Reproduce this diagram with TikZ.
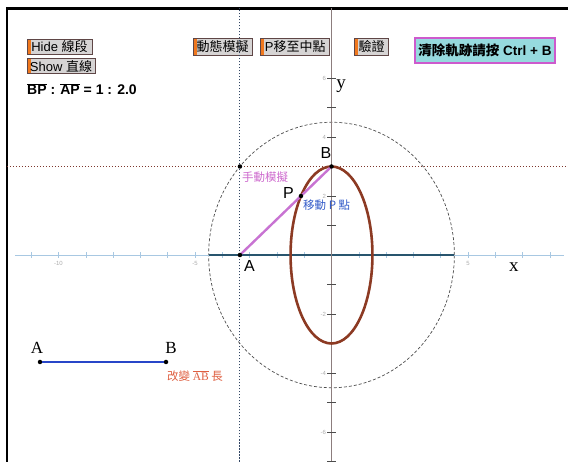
\documentclass[tikz,border=0pt]{standalone}
\usepackage{fontspec}
\setmainfont{Liberation Serif}
\setsansfont{Liberation Sans}
\newfontfamily\cjk{Noto Sans CJK TC}
\usepackage{tikz}
\usetikzlibrary{positioning}
\definecolor{btnfill}{RGB}{214,212,212}
\definecolor{btnedge}{RGB}{95,70,70}
\definecolor{btnstrip}{RGB}{240,120,30}
\definecolor{clearfill}{RGB}{150,218,222}
\definecolor{clearedge}{RGB}{205,90,205}
\definecolor{axisblue}{RGB}{168,200,226}
\definecolor{trackdark}{RGB}{40,85,110}
\definecolor{yaxisgray}{RGB}{140,125,125}
\definecolor{ellbrown}{RGB}{140,58,35}
\definecolor{segviolet}{RGB}{200,115,210}
\definecolor{guideblue}{RGB}{50,70,100}
\definecolor{guidered}{RGB}{125,55,45}
\definecolor{hintpink}{RGB}{205,105,205}
\definecolor{hintblue}{RGB}{50,90,200}
\definecolor{hintred}{RGB}{222,95,65}
\definecolor{segblue}{RGB}{40,70,200}
\newcommand{\ovl}[1]{$\overline{\mbox{#1}}$}
\tikzset{
  btn/.style={draw=btnedge, fill=btnfill, line width=0.8pt, inner xsep=3pt, inner ysep=1pt,
    minimum height=15pt, font=\sffamily\fontsize{13}{14}\selectfont,
    path picture={\fill[btnstrip] (path picture bounding box.south west) rectangle ([xshift=3.5pt]path picture bounding box.north west);}},
  clearbtn/.style={draw=clearedge, fill=clearfill, line width=1.6pt, minimum width=140pt, minimum height=25pt,
    inner sep=1pt, font=\sffamily\bfseries\fontsize{13.5}{14}\selectfont},
  dot/.style={circle, fill=black, inner sep=0pt, minimum size=4.5pt},
  ptlabel/.style={inner sep=0pt, font=\sffamily\fontsize{16}{16}\selectfont},
  seglabel/.style={inner sep=0pt, font=\fontsize{17}{17}\selectfont},
  ticklbl/.style={inner sep=0pt, text=gray!65, font=\sffamily\fontsize{6}{6}\selectfont},
  hint/.style={inner sep=0pt, font=\cjk\fontsize{11.5}{12}\selectfont},
  guide/.style={dash pattern=on 1.5pt off 1.5pt, line width=0.9pt}
}
\begin{document}
\begin{tikzpicture}[x=1pt, y=-1pt]
  \useasboundingbox (0,0) rectangle (568,462);
  \draw[line width=2.5pt] (7,462) -- (7,8.5) -- (568,8.5);

  % control panel
  \node[btn, minimum width=65pt] (hide) at (59.5,46.5) {Hide {\cjk 線段}};
  \node[btn, minimum width=68pt, below=4pt of hide.south west, anchor=north west] (show) {Show {\cjk 直線}};
  \node[anchor=north west, inner sep=0pt, font=\sffamily\bfseries\fontsize{14}{14}\selectfont] (ratio) at (27,83)
    {\ovl{BP} : \ovl{AP} = 1 : 2.0};

  \node[btn, minimum width=59pt, minimum height=17pt] (anim) at (222.5,46.5) {\cjk 動態模擬};
  \node[btn, minimum width=69pt, minimum height=17pt, right=8pt of anim] (mid) {P{\cjk 移至中點}};
  \node[btn, minimum width=34pt, minimum height=17pt, right=24pt of mid] (check) {\cjk 驗證};
  \node[clearbtn] (clear) at (485,50.5) {{\cjk 清除軌跡請按} Ctrl + B};

  % coordinate plane
  \begin{scope}[shift={(331.5,255)}, x=27.3pt, y=29.5pt]
    \coordinate (A) at (-3.354,0);
    \coordinate (B) at (0,3);
    \coordinate (P) at (-1.118,2);
    \coordinate (Q) at (-3.354,3);

    \draw[guide, guideblue] (-3.354,-7.0) -- (-3.354,8.36);
    \draw[guide, guidered] (-11.89,3) -- (8.66,3);
    \draw[black!70, line width=0.7pt, dash pattern=on 3pt off 2pt] (0,0) ellipse [x radius=4.5, y radius=4.5];

    \draw[axisblue, line width=0.8pt] (-11.6,0) -- (8.5,0);
    \foreach \i in {-11,...,8}
      \draw[axisblue, line width=0.6pt] (\i,-0.1) -- (\i,0.1);
    \draw[trackdark, line width=1.1pt] (-4.5,0) -- (4.5,0);
    \draw[yaxisgray, line width=1pt] (0,-7.0) -- (0,8.36);
    \foreach \j in {-7,...,-1,1,2,...,6}
      \draw[black!70, line width=0.7pt] (-0.15,\j) -- (0.15,\j);
    \foreach \i in {-10,-5,5}
      \node[ticklbl] (xt\i) at (\i,-0.28) {\i};
    \foreach \j in {-6,-4,-2,2,4,6}
      \node[ticklbl, anchor=east] (yt\j) at (-0.2,\j) {\j};
    \node[inner sep=0pt, font=\fontsize{19}{19}\selectfont] (xlbl) at (6.68,-0.42) {x};
    \node[inner sep=0pt, font=\fontsize{19}{19}\selectfont] (ylbl) at (0.35,5.72) {y};

    \draw[ellbrown, line width=2.6pt] (0,0) ellipse [x radius=1.5, y radius=3];
    \draw[segviolet, line width=2.4pt] (A) -- (B);
  \end{scope}

  \node[dot] (dA) at (A) {};
  \node[dot] (dB) at (B) {};
  \node[dot] (dP) at (P) {};
  \node[dot] (dQ) at (Q) {};
  \node[ptlabel, below right=5pt and 4pt of A] (labA) {A};
  \node[ptlabel, above left=8pt and 0pt of B] (labB) {B};
  \node[ptlabel, left=7pt of P, yshift=3pt] (labP) {P};
  \node[hint, text=hintpink, below right=5pt and 2pt of Q] (manual) {手動模擬};
  \node[hint, text=hintblue, right=2pt of P, yshift=-9pt] (moveP) {移動 P 點};

  % length of AB
  \node[dot] (segA) at (40,362) {};
  \node[dot] (segB) at (166,362) {};
  \draw[segblue, line width=2pt] (segA) -- (segB);
  \node[seglabel, above=6pt of segA, xshift=-3pt] (segAlbl) {A};
  \node[seglabel, above=6pt of segB, xshift=5pt] (segBlbl) {B};
  \node[hint, text=hintred, font=\cjk\fontsize{11.5}{12}\selectfont, anchor=west] (lenAB) at (167,376)
    {改變 {\rmfamily\ovl{AB}} 長};
\end{tikzpicture}
\end{document}
